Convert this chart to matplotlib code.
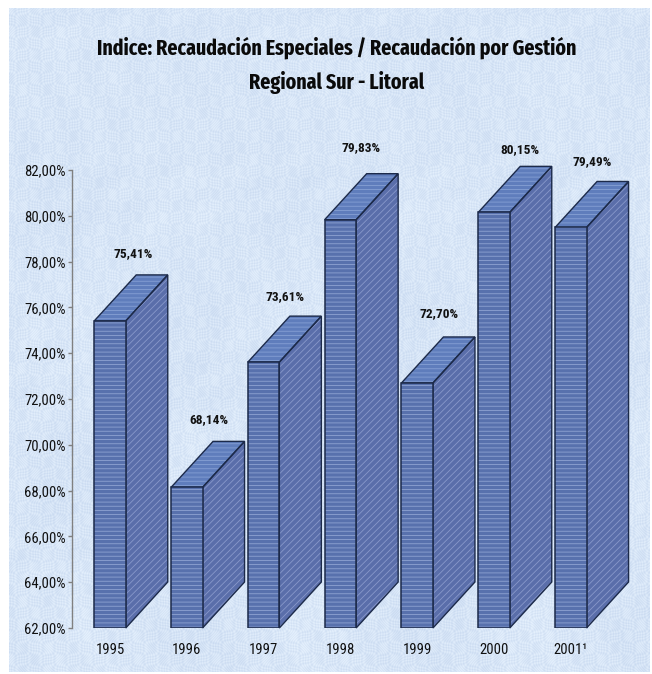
import numpy as np
import matplotlib
matplotlib.use("Agg")
import matplotlib.pyplot as plt

years = ["1995", "1996", "1997", "1998", "1999", "2000", "2001¹"]
values = [75.41, 68.14, 73.61, 79.83, 72.70, 80.15, 79.49]
yticks = [62, 64, 66, 68, 70, 72, 74, 76, 78, 80, 82]
title_lines = ["Indice: Recaudación Especiales / Recaudación por Gestión", "Regional Sur - Litoral"]

plt.rcParams["font.family"] = ["Roboto Condensed", "Liberation Sans", "DejaVu Sans"]
title_family = ["Fira Sans Extra Condensed", "Roboto Condensed", "DejaVu Sans"]

W, H = 652, 674
fig = plt.figure(figsize=(W / 100, H / 100), dpi=100, facecolor="white")

# mottled paper backdrop
bg = fig.add_axes([9 / W, 1 - 672 / H, (650 - 9) / W, (672 - 8) / H])
yy, xx = np.mgrid[0:664, 0:641]
tex = (np.sin(xx * 1.37 + np.sin(yy / 3.7) * 5) * np.sin(yy * 1.13 + np.sin(xx / 4.1) * 5)
       + 0.25 * np.sin((xx + 0.6 * yy) / 13.0 + np.sin(yy / 29.0) * 3) * np.sin((xx - 0.8 * yy) / 21.0)
       + 0.2 * np.sin(xx / 37.0) * np.sin(yy / 43.0))
tex = tex / np.abs(tex).max()
base = np.array([0.845, 0.90, 0.968])
amp = np.array([0.055, 0.045, 0.025])
bg.imshow(np.clip(base + tex[..., None] * amp, 0, 1), aspect="auto", interpolation="bilinear")
bg.axis("off")

x_left, x_right = 72, 610
y_top, y_bottom = 170, 628
ax = fig.add_axes([x_left / W, 1 - y_bottom / H, (x_right - x_left) / W, (y_bottom - y_top) / H])
ax.patch.set_alpha(0)
step_px = 76.8
ax.set_xlim(-(110 - x_left) / step_px, (x_right - 110) / step_px)
ax.set_ylim(62, 82)

width = 31.5 / step_px
depth_x = 42 / step_px
depth_y = 46 / ((y_bottom - y_top) / 20)
edge = "#1c2a4a"
plt.rcParams["hatch.linewidth"] = 0.6

# per-label pixel offsets from each bar's top
label_dx = [23, 22, 21, 21, 22, 26, 21]
label_dy = [67, 68, 66, 72, 69, 63, 66]

xs = np.arange(len(values))
for i, v in zip(xs, values):
    l, r = i - width / 2, i + width / 2
    sx = [r, r + depth_x, r + depth_x, r]
    sy = [62, 62 + depth_y, v + depth_y, v]
    tx = [l, r, r + depth_x, l + depth_x]
    ty = [v, v, v + depth_y, v + depth_y]
    ax.fill(sx, sy, facecolor="#5a6eaa", edgecolor="#8898ca", hatch="/////", lw=0, clip_on=False, zorder=2)
    ax.fill(sx, sy, facecolor="none", edgecolor=edge, lw=1, clip_on=False, zorder=3)
    ax.fill(tx, ty, facecolor="#5f7dbc", edgecolor="#86a0d4", hatch="----", lw=0, clip_on=False, zorder=2)
    ax.fill(tx, ty, facecolor="none", edgecolor=edge, lw=1, clip_on=False, zorder=3)
    ax.bar(i, v - 62, width, bottom=62, color="#5871ad", edgecolor="#8fa3d2", hatch="----", lw=0, zorder=4)
    ax.bar(i, v - 62, width, bottom=62, color="none", edgecolor=edge, lw=1.1, zorder=5)
    ax.annotate(f"{v:.2f}%".replace(".", ","), (i, v), xytext=(label_dx[i], label_dy[i]), textcoords="offset pixels",
                ha="center", va="center", fontsize=9.6, fontweight="bold", color="#111111", annotation_clip=False)

for s in ["top", "right", "bottom"]:
    ax.spines[s].set_visible(False)
ax.spines["left"].set_color("#808080")
ax.spines["left"].set_linewidth(1)
ax.set_yticks(yticks)
ax.set_yticklabels([f"{t:.2f}%".replace(".", ",") for t in yticks], fontsize=10.6, color="#111111")
ax.tick_params(axis="y", length=3, width=1, color="#808080", pad=1.5)
ax.set_xticks(xs)
ax.set_xticklabels(years, fontsize=10.6, color="#111111")
ax.tick_params(axis="x", length=0, pad=10.5)

fig.text(337 / W, 1 - 48 / H, title_lines[0], ha="center", va="center", fontsize=15.6, fontweight="bold", color="#0a0a0a", family=title_family)
fig.text(337 / W, 1 - 82 / H, title_lines[1], ha="center", va="center", fontsize=15.6, fontweight="bold", color="#0a0a0a", family=title_family)

fig.savefig("out.png", dpi=100, facecolor="white")
